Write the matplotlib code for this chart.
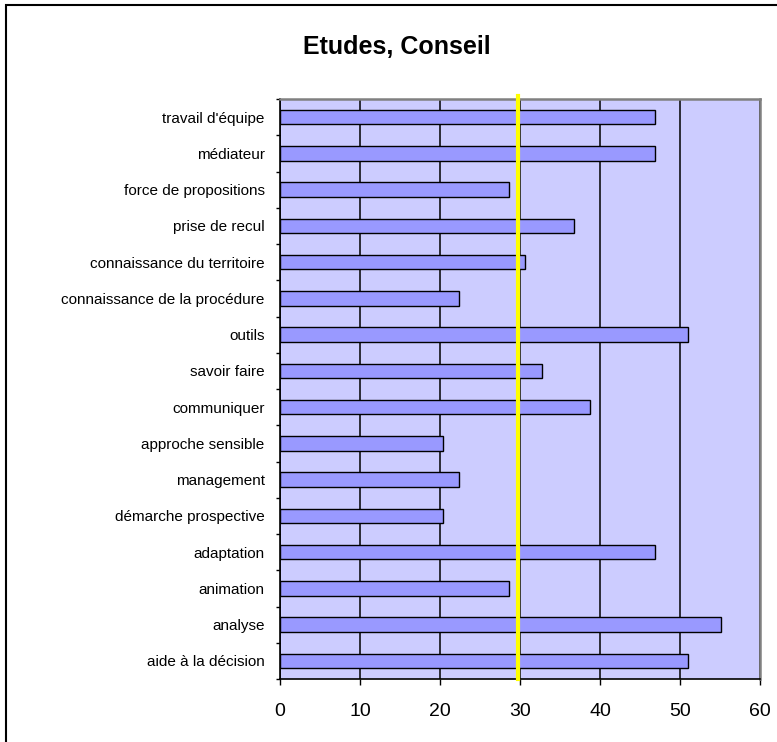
import matplotlib.pyplot as plt
from matplotlib.patches import Rectangle
from matplotlib.ticker import FixedLocator
import numpy as np

plt.rcParams['font.family'] = ['Liberation Sans', 'DejaVu Sans']

# categories from top to bottom
labels = ["travail d'équipe", "médiateur", "force de propositions", "prise de recul",
          "connaissance du territoire", "connaissance de la procédure", "outils",
          "savoir faire", "communiquer", "approche sensible", "management",
          "démarche prospective", "adaptation", "animation", "analyse",
          "aide à la décision"]
values = [46.9, 46.9, 28.6, 36.7, 30.6, 22.4, 51.0, 32.7, 38.8, 20.4, 22.4,
          20.4, 46.9, 28.6, 55.1, 51.0]
threshold = 29.8
x_ticks = [0, 10, 20, 30, 40, 50, 60]

fig = plt.figure(figsize=(7.77, 7.42), dpi=100)
ax = fig.add_axes([280 / 777, 1 - 679 / 742, 480 / 777, 580 / 742])
ax.set_facecolor('#CCCCFF')

y = np.arange(len(labels))
ax.barh(y, values, height=0.4, color='#9999FF', edgecolor='black', linewidth=1.0, zorder=3)

ax.set_xlim(0, 60)
ax.set_ylim(len(labels) - 0.5, -0.5)
ax.set_xticks(x_ticks)
ax.set_xticklabels([str(v) for v in x_ticks], fontsize=14)
ax.tick_params(axis='x', length=4.5, width=1, direction='out', pad=13)
ax.xaxis.grid(True, color='black', linewidth=1.1, zorder=1)

ax.set_yticks(y)
ax.set_yticklabels(labels, fontsize=11)
ax.tick_params(axis='y', which='major', length=0, pad=11)
ax.yaxis.set_minor_locator(FixedLocator(np.arange(-0.5, len(labels), 1.0)))
ax.tick_params(axis='y', which='minor', length=3, width=1, direction='out')

for side in ['left', 'bottom']:
    ax.spines[side].set_color('black')
    ax.spines[side].set_linewidth(1.2)
for side in ['top', 'right']:
    ax.spines[side].set_color('#808080')
    ax.spines[side].set_linewidth(1.8)

ax.axvline(threshold, ymin=0, ymax=1.006, color='#FFFF00', linewidth=3, zorder=4, clip_on=False)

fig.text(397 / 777, 1 - 47 / 742, 'Etudes, Conseil', ha='center', va='center',
         fontsize=18, fontweight='bold')

fig.patches.append(Rectangle((6 / 777, -0.02), 1.1, 1 - 5 / 742 + 0.02, transform=fig.transFigure,
                             fill=False, edgecolor='black', linewidth=1.5))

fig.savefig('out.png', dpi=100)
